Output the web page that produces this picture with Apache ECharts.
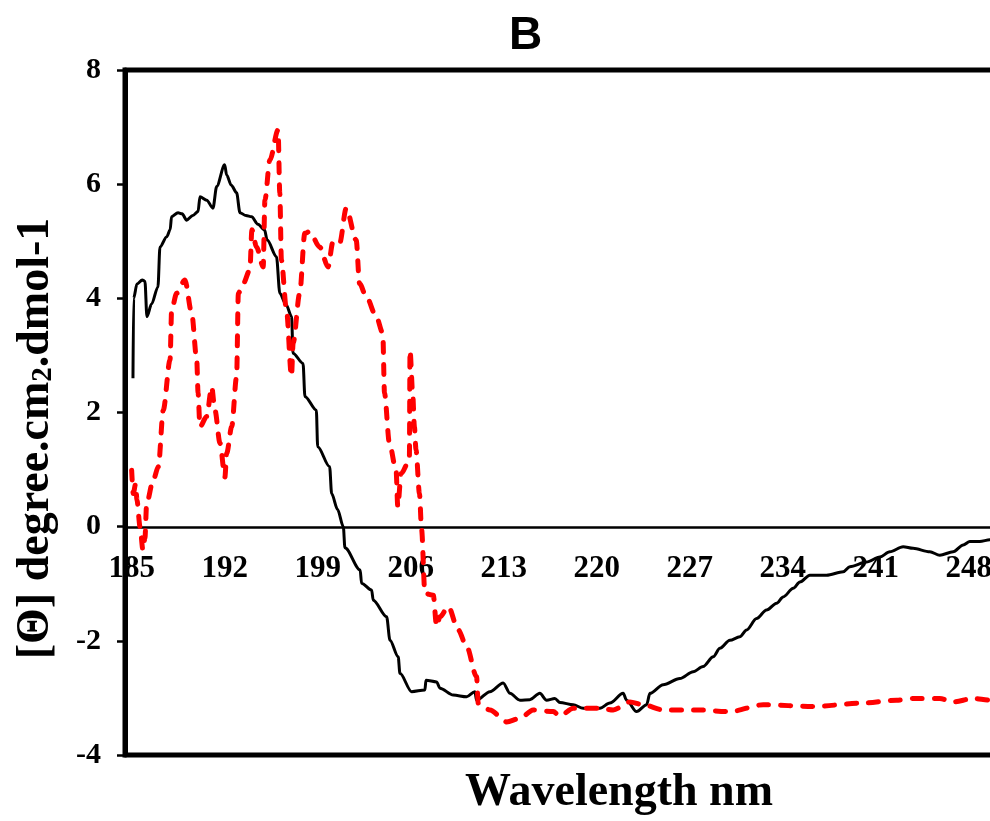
<!DOCTYPE html>
<html>
<head>
<meta charset="utf-8">
<script src="https://cdn.jsdelivr.net/npm/echarts@6/dist/echarts.min.js"></script>
<style>
  html, body { margin: 0; padding: 0; background: #fff; }
  #chart { width: 990px; height: 821px; }
</style>
</head>
<body>
<div id="chart"></div>
<script>
// wavelength categories (1 nm), labelled every 7 nm
const categories = [];
for (let w = 185; w <= 250; w++) categories.push(String(w));

// black solid curve
const blackWl = [185.1, 185.15, 185.4, 185.8, 186.0, 186.15, 186.5, 186.98, 187.13, 187.64, 187.9, 188.0, 188.49, 188.8, 189.14, 189.6, 190.0, 190.14, 190.65, 191.12, 191.4, 192.0, 192.15, 192.5, 192.9, 193.15, 193.6, 194.03, 194.5, 195.0, 195.2, 195.9, 196.15, 196.6, 197.04, 197.14, 197.9, 198.04, 198.9, 199.0, 199.9, 200.05, 200.5, 200.93, 201.05, 202.2, 202.3, 203.06, 203.18, 204.19, 204.44, 205.06, 205.19, 206.07, 207.07, 207.15, 207.95, 208.2, 209.2, 210.21, 210.83, 210.96, 211.96, 212.96, 213.47, 214.22, 214.97, 215.72, 216.23, 216.85, 217.23, 218.23, 218.98, 220.24, 220.99, 221.99, 222.25, 223.0, 223.76, 224.0, 225.0, 226.26, 227.26, 228.01, 228.77, 229.27, 230.02, 230.77, 231.28, 232.03, 232.78, 233.54, 234.03, 234.79, 235.29, 236.04, 237.3, 238.55, 239.05, 240.31, 241.31, 242.06, 243.06, 243.81, 245.07, 245.82, 246.82, 247.58, 248.08, 248.83, 249.58, 250.5];
const blackVal = [2.6, 4.0, 4.25, 4.32, 4.3, 3.68, 3.9, 4.2, 4.9, 5.08, 5.2, 5.43, 5.5, 5.48, 5.37, 5.45, 5.52, 5.78, 5.72, 5.58, 5.96, 6.34, 6.16, 5.98, 5.85, 5.5, 5.45, 5.43, 5.3, 5.2, 5.02, 4.73, 4.09, 3.9, 3.68, 3.04, 2.86, 2.28, 2.04, 1.4, 1.05, 0.58, 0.3, 0.0, -0.37, -0.76, -0.99, -1.11, -1.29, -1.58, -1.99, -2.28, -2.57, -2.89, -2.86, -2.69, -2.72, -2.83, -2.95, -2.98, -2.89, -3.04, -2.89, -2.74, -2.92, -3.04, -3.03, -2.92, -3.04, -3.01, -3.08, -3.12, -3.18, -3.18, -3.09, -2.92, -3.04, -3.24, -3.12, -2.92, -2.77, -2.66, -2.54, -2.45, -2.28, -2.13, -1.99, -1.93, -1.81, -1.61, -1.46, -1.34, -1.23, -1.08, -0.97, -0.85, -0.85, -0.79, -0.7, -0.62, -0.53, -0.44, -0.35, -0.38, -0.44, -0.5, -0.44, -0.32, -0.26, -0.26, -0.23, -0.22];

// red dashed curve
const redWl = [185.0, 185.12, 185.3, 185.4, 185.63, 185.85, 186.0, 186.13, 186.63, 187.01, 187.38, 187.89, 188.01, 188.39, 189.01, 189.52, 189.9, 190.0, 190.14, 190.65, 191.02, 191.27, 191.65, 192.02, 192.15, 192.53, 192.9, 193.03, 193.4, 193.9, 194.05, 194.4, 194.9, 195.03, 195.4, 196.02, 196.15, 196.27, 196.65, 197.03, 197.15, 197.65, 198.03, 198.4, 199.15, 199.78, 200.15, 200.65, 201.15, 201.9, 202.15, 202.66, 203.41, 203.9, 204.03, 204.4, 204.9, 205.03, 205.28, 205.9, 205.95, 206.15, 206.28, 206.4, 206.66, 206.82, 207.07, 207.7, 207.95, 208.2, 208.83, 209.58, 210.21, 210.96, 211.08, 211.96, 213.22, 214.22, 215.22, 216.73, 217.23, 218.23, 220.24, 221.24, 222.5, 223.5, 225.0, 227.52, 230.02, 232.53, 236.29, 240.05, 242.57, 243.81, 245.82, 246.82, 248.33, 249.58, 250.5];
const redVal = [0.99, 0.58, 0.75, 0.47, 0.0, -0.41, -0.2, 0.41, 0.82, 1.05, 2.04, 2.92, 3.8, 4.09, 4.32, 3.74, 2.92, 2.34, 1.75, 1.93, 2.45, 2.04, 1.46, 0.87, 1.28, 1.75, 2.63, 4.09, 4.26, 4.5, 5.2, 4.9, 4.55, 5.72, 6.42, 6.95, 5.84, 4.67, 3.8, 2.63, 3.21, 4.09, 5.14, 5.17, 4.9, 4.55, 4.99, 4.96, 5.58, 5.02, 4.26, 4.03, 3.68, 3.39, 2.34, 1.46, 0.99, 0.35, 0.93, 1.16, 3.09, 2.34, 1.75, 1.35, 0.58, -0.05, -1.17, -1.2, -1.75, -1.58, -1.4, -1.81, -2.1, -2.63, -3.09, -3.21, -3.42, -3.36, -3.21, -3.24, -3.32, -3.18, -3.18, -3.21, -3.07, -3.12, -3.21, -3.21, -3.24, -3.12, -3.15, -3.09, -3.04, -3.01, -3.01, -3.07, -3.01, -3.04, -3.03];

const serif = '"Liberation Serif", "Times New Roman", serif';
const pair = (xs, ys) => xs.map((x, i) => [x, ys[i]]);

const chart = echarts.init(document.getElementById('chart'));
const option = {
  animation: false,
  backgroundColor: '#fff',
  title: [
    {
      text: 'B', left: 504, top: 8,
      textStyle: { fontFamily: '"Liberation Sans", Arial, sans-serif', fontWeight: 'bold', fontSize: 46, color: '#000' }
    },
    {
      text: 'Wavelength nm', left: 460, top: 765,
      textStyle: { fontFamily: serif, fontWeight: 'bold', fontSize: 46, color: '#000' }
    }
  ],
  grid: [
    { // main plot box
      left: 125, top: 70, right: -12, bottom: 66,
      outerBoundsMode: 'none',
      show: true, borderColor: '#000', borderWidth: 5
    },
    { // same box cut at y = 0, carries the wavelength axis
      left: 125, top: 70, right: -12, bottom: 294,
      outerBoundsMode: 'none'
    }
  ],
  xAxis: [
    {
      type: 'value',
      gridIndex: 0,
      min: 184.5, max: 250.5,
      show: false
    },
    {
      type: 'category',
      gridIndex: 1,
      position: 'bottom',
      data: categories,
      boundaryGap: true,
      axisLine: { onZero: false, lineStyle: { color: '#000', width: 2.5 } },
      axisTick: { interval: 6, length: 8, lineStyle: { color: '#000', width: 2.5 } },
      axisLabel: { interval: 6, margin: 26, color: '#000', fontFamily: serif, fontWeight: 'bold', fontSize: 31 },
      splitLine: { show: false }
    }
  ],
  yAxis: [
    {
      type: 'value',
      gridIndex: 0,
      min: -4, max: 8, interval: 2,
      name: '[Θ] degree.cm{s|2}.dmol-1',
      nameLocation: 'middle',
      nameGap: 66,
      nameTextStyle: {
        fontFamily: serif, fontWeight: 'bold', fontSize: 46, color: '#000',
        padding: [0, 52, 0, 0],
        rich: { s: { fontFamily: serif, fontWeight: 'bold', fontSize: 29, color: '#000', padding: [15, 0, 0, 0] } }
      },
      axisLine: { show: true, lineStyle: { color: '#000', width: 5 } },
      axisTick: { show: true, length: 8, lineStyle: { color: '#000', width: 2.5 } },
      axisLabel: { margin: 24, color: '#000', fontFamily: serif, fontWeight: 'bold', fontSize: 30 },
      splitLine: { show: false }
    },
    {
      type: 'value',
      gridIndex: 1,
      min: 0, max: 1,
      show: false
    }
  ],
  series: [
    {
      name: 'black',
      type: 'line',
      xAxisIndex: 0,
      yAxisIndex: 0,
      data: pair(blackWl, blackVal),
      showSymbol: false,
      smooth: 0.3,
      smoothMonotone: 'x',
      lineStyle: { color: '#000', width: 3 }
    },
    {
      name: 'red',
      type: 'line',
      xAxisIndex: 0,
      yAxisIndex: 0,
      data: pair(redWl, redVal),
      showSymbol: false,
      smooth: 0.3,
      smoothMonotone: 'x',
      lineStyle: { color: '#ff0000', width: 5, type: [10, 12], cap: 'round' }
    }
  ]
};
chart.setOption(option);
</script>
</body>
</html>
